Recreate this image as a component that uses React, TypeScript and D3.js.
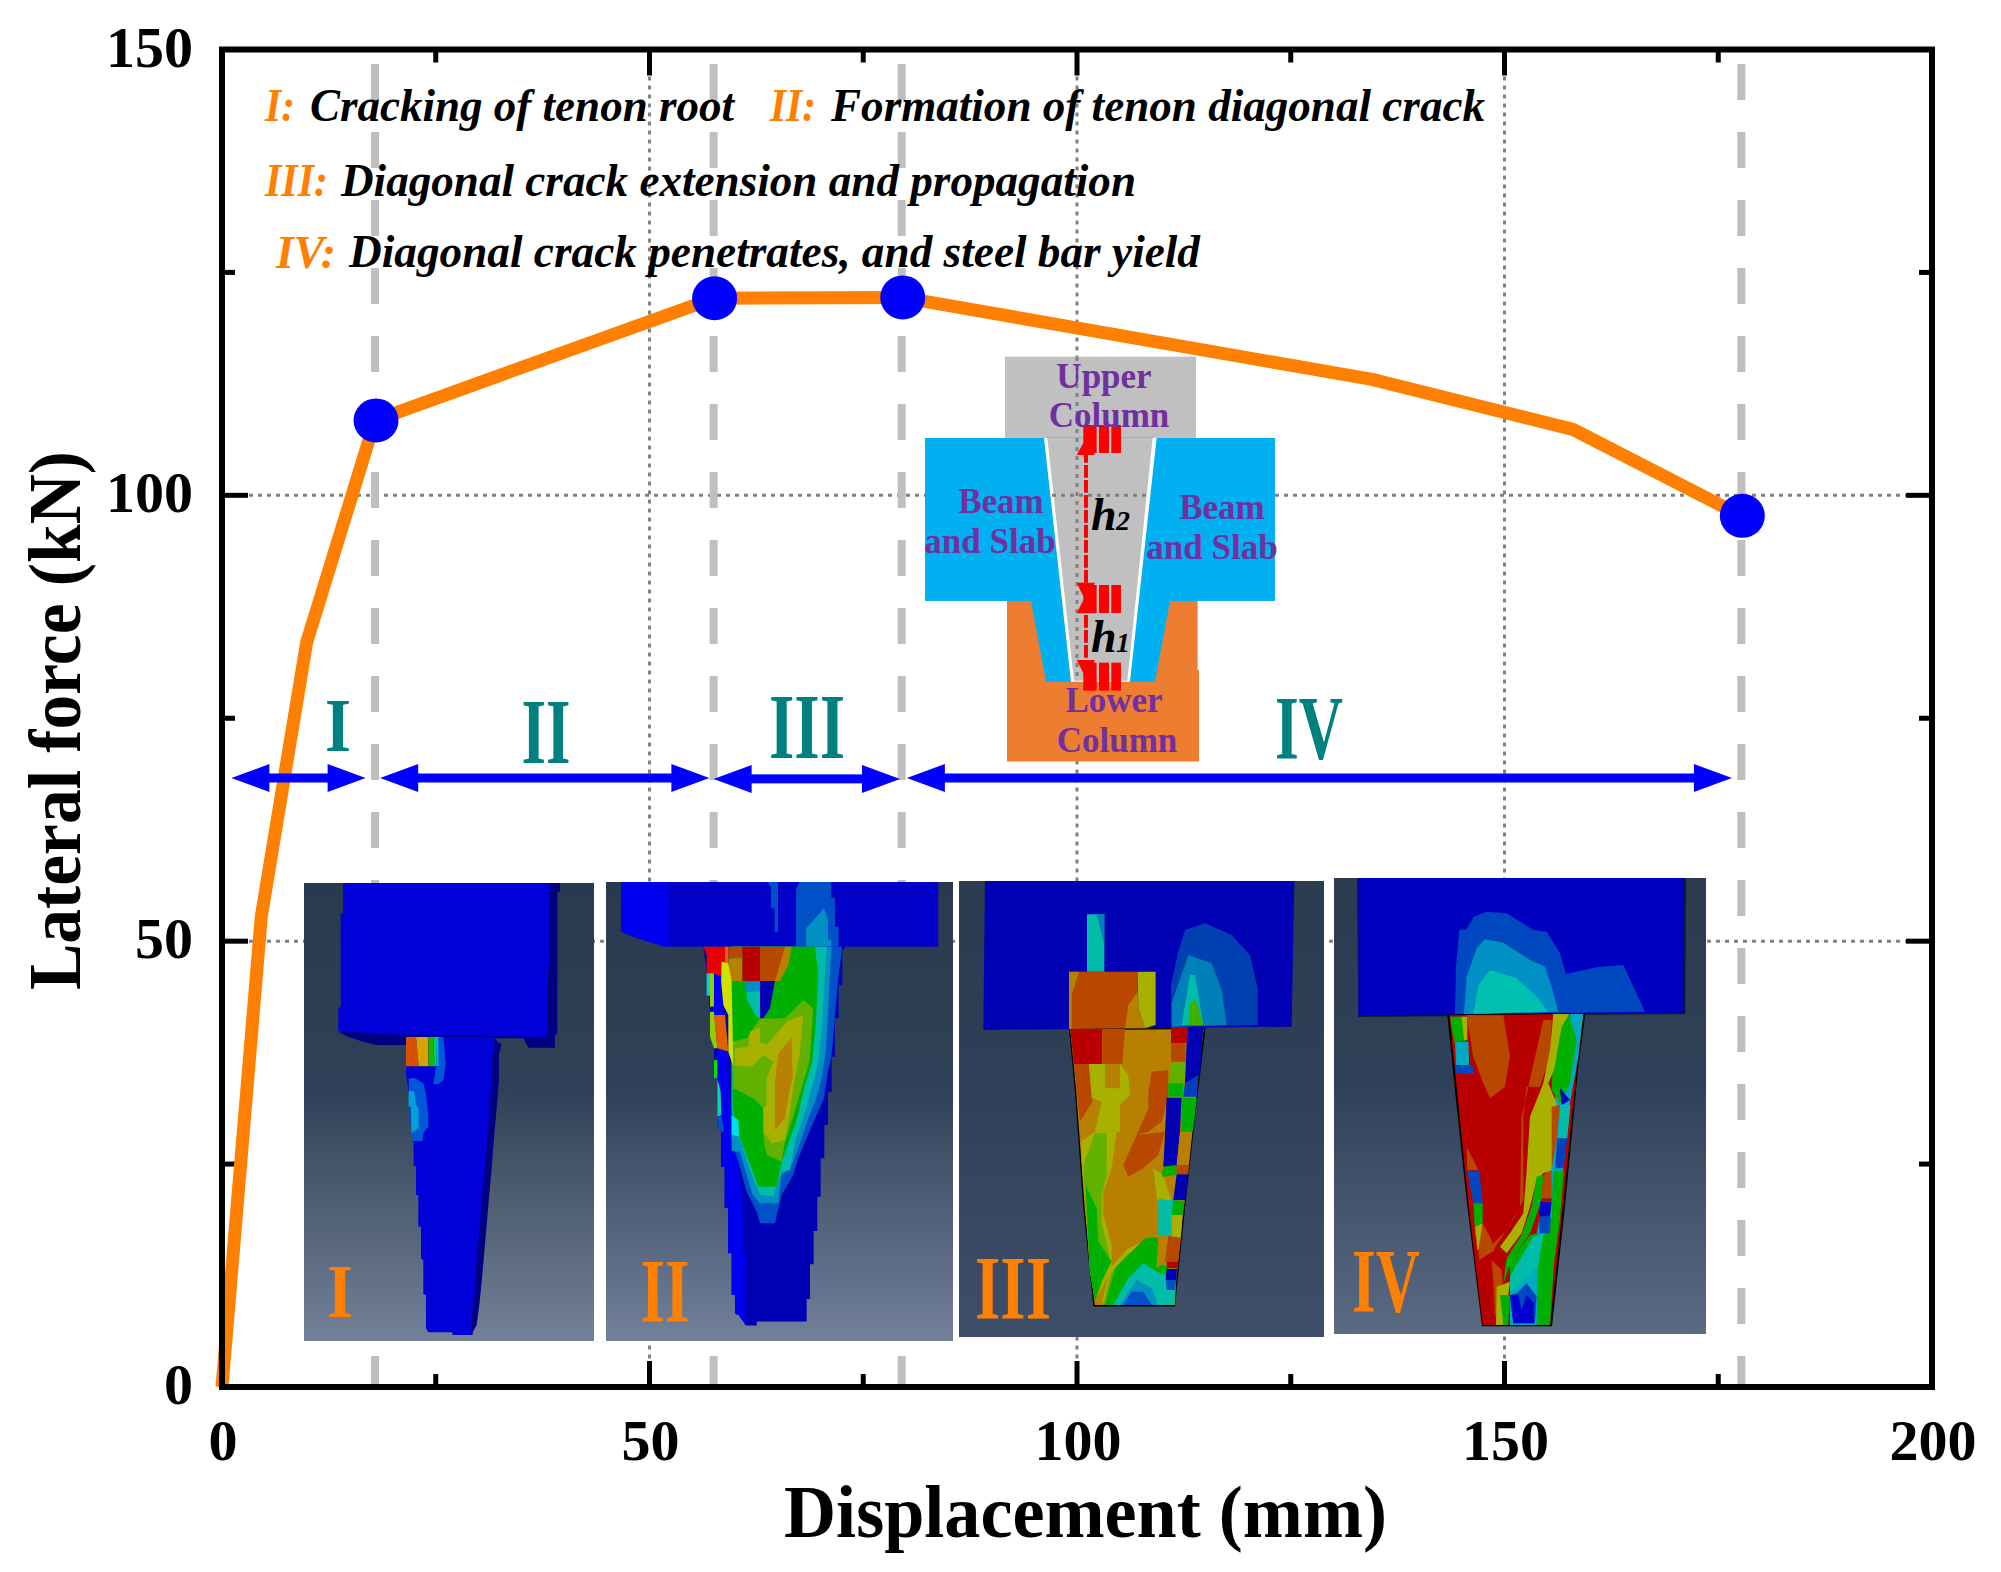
import * as d3 from 'd3';

// curve (mm, kN)
const displacement = [0, 4.6, 9.9, 17.9, 57.5, 79.5, 134.5, 158, 177.7];
const lateralForce = [0, 52.8, 83.5, 108.4, 122.1, 122.2, 113, 107.4, 97.7];
const stagePoints = [3, 4, 5, 8];
const stageLines = [17.9, 57.5, 79.5, 177.7];
const xTicks = [0, 50, 100, 150, 200];
const yTicks = [0, 50, 100, 150];
const xMinor = [25, 75, 125, 175];
const yMinor = [25, 75, 125];
const xGrid = [50, 100, 150];
const yGrid = [50, 100];

const stageArrows = [
  { from: 1.1, to: 16.8, force: 68.3 },
  { from: 18.5, to: 57, force: 68.3 },
  { from: 57.5, to: 79.3, force: 68.2 },
  { from: 80.1, to: 176.6, force: 68.3 },
];
const stageNames = [
  { t: 'I', x: 338, top: 700, h: 51, w: 26 },
  { t: 'II', x: 546, top: 702, h: 61, w: 49 },
  { t: 'III', x: 807, top: 697, h: 61, w: 76 },
  { t: 'IV', x: 1309, top: 699, h: 60, w: 68 },
];
const insetNames = [
  { t: 'I', x: 340, top: 1266, h: 51, w: 26 },
  { t: 'II', x: 665, top: 1262, h: 60, w: 49 },
  { t: 'III', x: 1013, top: 1259, h: 60, w: 76 },
  { t: 'IV', x: 1386, top: 1252, h: 60, w: 68 },
];
const legendKeys = [
  { t: 'I:', x: 265, y: 121, w: 30 },
  { t: 'II:', x: 770, y: 121, w: 46 },
  { t: 'III:', x: 265, y: 196, w: 63 },
  { t: 'IV:', x: 276, y: 268, w: 60 },
];
const legendTexts = [
  { t: 'Cracking of tenon root', x: 310, y: 121, w: 424 },
  { t: 'Formation of tenon diagonal crack', x: 831, y: 121, w: 654 },
  { t: 'Diagonal crack extension and propagation', x: 341, y: 196, w: 795 },
  { t: 'Diagonal crack penetrates, and steel bar yield', x: 349, y: 267, w: 851 },
];

type Patch = [string, string];

const BLUE = '#0000d8';
const DEEP = '#0000b4';
const B2 = '#0050c8';
const B3 = '#0090c4';
const TEAL = '#00bca8';
const GREEN = '#00b000';
const LIME = '#62b000';
const OLIVE = '#a8b000';
const GOLD = '#b88000';
const RUST = '#b84800';
const RED = '#b80000';

// finite element contour pictures, traced in 3x crop pixels
const patchesOne: Patch[] = [
  ['#000080', '750,24 780,24 780,50 772,50 772,478 765,478 765,518 685,518 670,490 583,490 605,510 597,535 597,615 590,700 582,790 575,880 567,968 560,1050 553,1130 546,1210 538,1290 530,1350 518,1372 518,1380 458,1380 458,1372 500,1300 500,500 320,510 230,510 195,502 145,486 115,470 740,400'],
  [BLUE, '129,24 750,24 750,275 743,275 743,485 670,485 262,478 115,468 115,398 122,396 122,115 129,115'],
  [BLUE, '318,486 583,486 583,535 576,535 576,615 568,700 562,790 554,880 546,968 540,1050 532,1130 525,1240 516,1320 516,1380 458,1380 458,1372 385,1372 378,1360 378,1260 370,1258 370,1155 363,1150 363,1055 355,1055 355,960 348,960 348,873 341,873 341,795 334,770 326,650 318,600'],
  ['#0058d8', '416,486 430,486 437,570 430,615 415,628 400,628 408,575 416,575'],
  ['#d85000', '318,486 348,486 356,574 318,574'],
  ['#d8a000', '348,486 385,486 385,574 356,574'],
  ['#28b000', '385,486 400,486 403,574 385,574'],
  ['#00d840', '400,486 408,486 410,574 403,574'],
  ['#00b8d8', '408,486 416,486 416,574 410,574'],
  ['#0058d8', '326,610 345,610 370,625 378,660 385,720 385,755 370,775 368,798 340,798 334,770 326,650'],
  ['#00a0d8', '326,648 342,648 348,690 356,700 356,760 334,775 333,695 326,695'],
];

const patchesTwo: Patch[] = [
  ['#0000f0', '63,21 203,21 203,215 192,215 160,205 118,192 85,180 63,170'],
  ['#0000c8', '203,21 1015,21 1015,215 203,215'],
  [B2, '502,21 534,21 534,170 524,170 524,100 513,100 513,35'],
  [B2, '598,21 694,21 694,68 705,68 705,155 716,155 716,215 588,215 588,45'],
  [B3, '618,215 618,160 650,125 672,100 684,135 684,195 694,195 694,215'],
  [DEEP, '310,215 738,215 727,225 727,330 716,330 716,430 705,430 705,545 695,545 695,650 684,650 684,750 673,750 673,850 662,850 662,965 652,965 652,1068 641,1068 641,1168 630,1168 630,1272 620,1272 620,1340 470,1340 470,1352 438,1352 416,1320 405,1316 405,1260 395,1260 395,1135 384,1135 384,998 374,998 374,875 363,875 363,770 352,750 352,610 342,610 342,490 330,410 320,290'],
  ['#0000f0', '352,520 385,535 385,640 395,700 405,830 415,875 428,1000 428,1135 438,1135 438,1352 416,1320 405,1316 405,1260 395,1260 395,1135 384,1135 384,998 374,998 374,875 363,875 363,770 352,750'],
  [B2, '726,225 716,300 705,420 695,540 684,590 672,670 650,720 620,790 595,850 580,900 545,960 525,1045 480,1045 470,1010 440,950 415,860 395,800 395,215 726,215'],
  [B3, '695,215 690,300 684,430 677,530 665,610 645,680 625,730 605,790 580,860 565,885 545,900 535,985 480,985 458,960 440,900 418,825 395,790 395,215'],
  [TEAL, '680,215 672,340 667,440 655,560 635,640 612,720 585,800 570,885 545,890 520,965 480,960 455,900 418,790 395,700 395,215'],
  [GREEN, '575,215 645,215 655,300 648,440 637,560 612,640 592,730 560,820 545,860 530,935 475,935 455,880 420,790 398,700 395,215'],
  [LIME, '395,500 440,490 480,430 555,430 610,375 640,400 628,560 605,640 578,730 555,800 545,860 500,840 490,790 490,700 460,670 400,640'],
  [OLIVE, '405,520 445,515 450,470 480,455 480,500 500,510 560,440 610,420 600,530 580,640 565,740 555,795 515,805 490,770 490,700 500,690 500,610 520,560 490,540 455,575 405,570'],
  [GOLD, '535,535 575,488 578,610 570,640 555,730 525,765 525,620'],
  [GREEN, '395,318 440,318 440,400 470,430 440,450 420,480 395,460'],
  [TEAL, '440,318 480,318 480,430 465,420 440,370'],
  [B3, '438,318 480,318 480,350 438,350'],
  [DEEP, '480,318 525,318 510,400 490,430 480,430'],
  [GREEN, '525,318 575,318 565,400 530,430 505,430 515,395'],
  ['#e80000', '310,215 375,215 375,305 320,295 320,240'],
  [RUST, '385,215 427,215 427,250 385,250'],
  [GOLD, '385,250 427,250 427,318 385,318'],
  [RED, '427,215 480,215 480,318 427,318'],
  [RUST, '480,215 555,215 545,270 525,318 480,318'],
  [GOLD, '555,215 575,215 565,270 540,318 525,318'],
  ['#e86000', '375,215 385,215 385,265 375,265'],
  ['#d0e000', '365,260 385,265 395,318 400,575 385,530 385,420 362,375'],
  ['#00d0e0', '320,295 330,295 330,362 320,362'],
  ['#90d000', '330,295 342,295 342,395 330,395'],
  ['#0000f0', '342,295 362,305 373,420 342,420'],
  ['#90d000', '330,410 342,410 352,520 342,520 330,485'],
  ['#e06000', '342,420 375,420 385,530 352,520'],
  ['#00e000', '342,555 352,555 352,610 342,610'],
  ['#00d8b0', '352,610 362,650 364,720 352,725'],
  [B2, '352,725 365,725 372,770 363,770 352,750'],
  ['#00e0e0', '395,720 415,735 418,785 395,780'],
  [B3, '395,780 415,785 418,830 395,828'],
];

const patchesThree: Patch[] = [
  [DEEP, '90,18 1018,18 1010,455 85,465'],
  ['#0040b0', '650,455 648,330 670,230 690,165 750,145 830,180 885,240 908,340 908,450'],
  ['#0080b8', '650,455 650,385 700,240 770,265 800,345 815,450'],
  [TEAL, '680,450 705,300 720,300 745,450'],
  ['#40b000', '700,450 705,380 725,380 745,450'],
  [TEAL, '396,118 448,118 448,290 396,290'],
  ['#0080b8', '425,118 448,118 448,210'],
  [RUST, '342,290 548,290 548,462 342,462'],
  [GOLD, '342,290 372,290 350,360 350,462 342,462'],
  [GOLD, '548,350 520,390 510,462 602,462 570,460 550,400'],
  [OLIVE, '548,290 602,290 602,450 570,460 550,400'],
  ['#000000', '342,462 752,458 728,660 690,1000 660,1295 415,1295 385,1000 360,650'],
  [GOLD, '346,466 746,462 724,660 686,1000 656,1290 419,1290 389,1000 364,650'],
  [RED, '346,462 442,462 442,567 357,567'],
  [RUST, '442,462 510,462 502,567 442,567'],
  [RUST, '357,567 402,567 412,680 375,740'],
  [OLIVE, '402,567 450,567 450,640 495,640 495,567 520,600 525,660 495,690 495,770 420,770 440,680 410,668'],
  [RUST, '590,590 640,585 640,670 620,740 580,770 545,780 580,700 580,650'],
  [RUST, '545,780 630,770 610,840 565,880 520,905 505,870'],
  [OLIVE, '378,800 420,770 485,770 470,880 445,950 445,1020 470,1110 470,1180 420,1280 405,1190 392,1000 380,860'],
  [LIME, '385,870 420,775 455,775 455,900 440,960 440,1040 465,1150 420,1280 405,1190 392,1000'],
  [GREEN, '392,930 425,1000 430,1100 470,1160 440,1220 420,1280 405,1190'],
  [OLIVE, '595,880 625,900 650,980 610,1080 520,1120 465,1180 440,1285 520,1285 610,1200 610,1000'],
  [LIME, '610,970 650,980 610,1090 520,1135 470,1190 445,1285 660,1290 665,1180 610,1160'],
  [GREEN, '570,1090 610,1085 610,1160 640,1180 655,1290 450,1290 480,1180'],
  [TEAL, '565,1165 605,1190 655,1210 655,1290 475,1290 520,1210'],
  [B3, '545,1215 590,1240 610,1290 495,1290'],
  [B2, '530,1250 565,1250 590,1290 505,1290'],
  [RED, '648,456 700,456 695,505 648,505'],
  [RUST, '648,505 692,505 692,560 648,560'],
  [DEEP, '700,456 745,456 735,600 690,625 695,505'],
  [LIME, '650,562 692,562 688,625 640,665 640,620'],
  [GREEN, '640,625 685,625 685,665 640,665'],
  ['#0040c0', '690,625 730,600 726,665 685,665'],
  [DEEP, '635,668 680,668 675,770 665,875 625,875 630,780'],
  [GREEN, '682,668 726,668 714,770 678,770'],
  [GOLD, '675,772 712,772 702,870 665,870'],
  [GREEN, '625,875 665,870 665,900 620,905'],
  [RUST, '665,870 702,870 700,898 665,898'],
  [DEEP, '665,898 698,898 692,975 655,975'],
  [TEAL, '610,975 655,975 650,1080 610,1080'],
  [OLIVE, '650,1020 682,1020 678,1088 650,1088'],
  [GREEN, '655,975 690,978 682,1020 650,1020'],
  [GOLD, '610,1082 640,1082 632,1160 605,1180'],
  [RUST, '640,1082 678,1088 670,1160 630,1160'],
  [RED, '635,1160 670,1160 668,1180 635,1180'],
  [DEEP, '635,1182 666,1182 664,1215 632,1215'],
  [B2, '632,1215 664,1215 660,1245 635,1245'],
  [TEAL, '615,1245 660,1245 658,1290 615,1290'],
];

const patchesFour: Patch[] = [
  ['#10182e', '81,24 1068,24 1066,432 85,441'],
  ['#0000c0', '85,24 1062,24 1062,428 85,436'],
  ['#0048c0', '375,432 378,290 388,180 410,178 432,140 470,125 530,130 610,180 650,185 690,250 708,312 800,292 880,285 945,425'],
  [B3, '402,432 410,320 440,235 465,208 520,218 600,270 645,290 665,350 685,425'],
  ['#00c0b0', '430,432 445,345 480,300 560,325 620,380 655,425'],
  ['#000000', '352,434 766,430 744,600 706,1000 666,1369 456,1369 411,1000 379,700'],
  [RED, '358,436 760,432 740,600 700,1000 660,1365 458,1365 415,1000 385,700'],
  ['#00a8c0', '720,432 760,432 745,560 720,700 700,900 680,1100 665,1200 660,1365 540,1365 540,1270 620,1090 640,990 680,640'],
  [GREEN, '690,432 715,432 740,510 720,640 690,700 665,660 670,540'],
  [GREEN, '670,902 702,902 690,1050 672,1180 660,1365 620,1365 625,1130 665,1040'],
  [RUST, '640,450 665,450 660,560 630,650 590,650 580,740 580,990 555,1040 510,1110 490,1140 480,1130 530,1080 570,1010 575,740'],
  [OLIVE, '670,432 718,432 695,470 672,600 655,640 680,700 665,900 640,910 620,930 600,1010 575,1090 530,1150 510,1130 540,1090 580,1030 590,900 600,740 640,640 660,540'],
  [GREEN, '620,920 640,915 635,990 600,1090 545,1170 520,1240 530,1165 575,1095 605,1010'],
  [GREEN, '540,1175 600,1095 625,1090 610,1190 540,1270'],
  [TEAL, '610,1100 640,1090 625,1190 540,1270 540,1220'],
  [RUST, '665,710 690,705 680,810 665,900 665,985 635,985 640,915 665,900'],
  ['#0000c0', '690,655 720,690 695,705'],
  [TEAL, '692,705 722,705 712,805 685,805'],
  ['#0040c0', '682,805 712,805 700,895 675,895'],
  [RED, '637,985 665,985 665,995 637,995'],
  ['#0000c0', '630,995 665,995 660,1040 628,1040'],
  ['#0048c0', '628,1040 662,1040 660,1090 628,1090'],
  ['#0048c0', '540,1275 560,1270 590,1240 620,1280 615,1360 550,1360'],
  ['#0000d0', '540,1275 565,1275 575,1320 590,1275 612,1300 612,1360 550,1360'],
  [GREEN, '360,440 410,440 410,512 372,515'],
  [OLIVE, '395,440 412,440 412,510 402,510'],
  ['#00a8c0', '375,515 415,515 418,585 378,585'],
  ['#0048c0', '375,585 430,585 430,612 380,612'],
  [RED, '418,515 430,515 430,585 418,585'],
  [RUST, '410,436 520,436 540,560 525,650 480,685 460,640 430,560'],
  [RUST, '410,830 445,900 412,900'],
  ['#0048c0', '412,902 448,902 458,1000 430,1000'],
  [GREEN, '430,1000 458,1000 458,1060 436,1100'],
  [OLIVE, '436,1070 458,1060 455,1140 442,1140'],
  [RUST, '458,1060 480,1100 495,1140 448,1170 445,1140'],
  [RUST, '485,1170 515,1200 520,1270 495,1340 490,1240'],
  [OLIVE, '500,1250 540,1235 535,1275 520,1365 498,1365'],
  [GREEN, '510,1275 540,1275 535,1365 520,1365'],
];

const insets = [
  { id: 'bgOne', x: 304, y: 883, w: 290, h: 458, cropX: 300, cropY: 875, patches: patchesOne, stops: ['#2a3a4e', '#2f4158', '#748198'] },
  { id: 'bgTwo', x: 606, y: 882, w: 347, h: 459, cropX: 600, cropY: 875, patches: patchesTwo, stops: ['#2a3a4e', '#2f4158', '#728099'] },
  { id: 'bgThree', x: 959, y: 881, w: 365, h: 456, cropX: 955, cropY: 875, patches: patchesThree, stops: ['#2b3b50', '#2e4058', '#404f69'] },
  { id: 'bgFour', x: 1334, y: 878, w: 372, h: 456, cropX: 1330, cropY: 870, patches: patchesFour, stops: ['#2b3b50', '#2f4158', '#5b6a83'] },
];

const jointLabels = [
  { t: 'Upper', x: 1104, y: 388 },
  { t: 'Column', x: 1109, y: 427 },
  { t: 'Beam', x: 1001, y: 513 },
  { t: 'and Slab', x: 990, y: 553 },
  { t: 'Beam', x: 1222, y: 519 },
  { t: 'and Slab', x: 1212, y: 559 },
  { t: 'Lower', x: 1114, y: 712 },
  { t: 'Column', x: 1117, y: 752 },
];
const hatchRows = [255, 735, 968];
const hatchBars = [[550, 40], [597, 30], [634, 29]];
const jointArrowHeads = [
  '558,295 530,345 585,345',
  '530,728 585,728 558,785',
  '530,820 585,820 558,765',
  '530,960 585,960 558,1015',
];

const SERIF = '"Liberation Serif", "Times New Roman", serif';
const ORANGE = '#ff8000';
const CURVE_BLUE = '#0000ff';
const PURPLE = '#7030a0';

const width = 2001;
const height = 1572;
const x = d3.scaleLinear().domain([0, 200]).range([222, 1932]);
const y = d3.scaleLinear().domain([0, 150]).range([1387, 49.5]);

const curve = d3
  .line<number>()
  .x((d) => x(d))
  .y((_, i) => y(lateralForce[i]));

const GRID_DASH = '4 5';

function Numeral({ n, fill }: { n: { t: string; x: number; top: number; h: number; w: number }; fill: string }) {
  const size = n.h / 0.662;
  return (
    <text
      x={n.x - n.w / 2}
      y={n.top + n.h}
      fontFamily={SERIF}
      fontWeight="bold"
      fontSize={size}
      fill={fill}
      textLength={n.w}
      lengthAdjust="spacingAndGlyphs"
    >
      {n.t}
    </text>
  );
}

function Arrow({ a }: { a: { from: number; to: number; force: number } }) {
  const x0 = x(a.from);
  const x1 = x(a.to);
  const yy = y(a.force);
  const head = 38;
  const half = 14;
  return (
    <g fill={CURVE_BLUE}>
      <rect x={x0 + head - 1} y={yy - 4.5} width={x1 - x0 - 2 * head + 2} height={9} />
      <polygon points={`${x0},${yy} ${x0 + head},${yy - half} ${x0 + head},${yy + half}`} />
      <polygon points={`${x1},${yy} ${x1 - head},${yy - half} ${x1 - head},${yy + half}`} />
    </g>
  );
}

function Joint() {
  return (
    <g>
      <g transform="translate(900,340) scale(0.3333)">
        <rect x={315} y={50} width={573} height={244} fill="#c0c0c0" />
        <polygon points="321,783 893,783 893,990 897,990 897,1265 321,1265" fill="#ed7d31" />
        <rect x={75} y={294} width={1050} height={489} fill="#00b0f0" />
        <polygon points="393,783 438,1025 765,1025 810,783" fill="#00b0f0" />
        <polygon points="432,294 770,294 690,1025 513,1025" fill="#ffffff" />
        <polygon points="442,294 758,294 682,1022 522,1022" fill="#c0c0c0" />
        <line x1={442} x2={758} y1={293} y2={293} stroke="#a8a8a8" strokeWidth={3} />
      </g>
      <line x1={x(100)} x2={x(100)} y1={357} y2={680} stroke="#808080" strokeWidth={3} strokeDasharray={GRID_DASH} />
      <line x1={1052} x2={1148} y1={y(100)} y2={y(100)} stroke="#808080" strokeWidth={3} strokeDasharray={GRID_DASH} />
      <g transform="translate(900,340) scale(0.3333)">
        {hatchRows.map((r) =>
          hatchBars.map(([bx, bw]) => <rect key={`${r}-${bx}`} x={bx} y={r} width={bw} height={84} fill="#ff0000" />),
        )}
        <line x1={558} x2={558} y1={330} y2={1000} stroke="#ff0000" strokeWidth={12} strokeDasharray="38 7" />
        {jointArrowHeads.map((p) => (
          <polygon key={p} points={p} fill="#ff0000" />
        ))}
      </g>
      {jointLabels.map((l, i) => (
        <text
          key={i}
          x={l.x}
          y={l.y}
          textAnchor="middle"
          fontFamily={SERIF}
          fontWeight="bold"
          fontSize={35}
          fill={PURPLE}
        >
          {l.t}
        </text>
      ))}
      <g fontFamily={SERIF} fontWeight="bold" fontStyle="italic" fill="#000000">
        <text x={1091} y={530} fontSize={46}>h</text>
        <text x={1116} y={530} fontSize={28}>2</text>
        <text x={1091} y={652} fontSize={46}>h</text>
        <text x={1116} y={652} fontSize={28}>1</text>
      </g>
    </g>
  );
}

export default function App() {
  return (
    <svg
      width={width}
      height={height}
      viewBox={`0 0 ${width} ${height}`}
      style={{ position: 'absolute', left: 0, top: 0, background: '#ffffff' }}
    >
      <defs>
        {insets.map((s) => (
          <linearGradient key={s.id} id={s.id} x1="0" x2="0" y1="0" y2="1">
            <stop offset="0" stopColor={s.stops[0]} />
            <stop offset="0.45" stopColor={s.stops[1]} />
            <stop offset="1" stopColor={s.stops[2]} />
          </linearGradient>
        ))}
      </defs>

      {xGrid.map((d) => (
        <line key={d} x1={x(d)} x2={x(d)} y1={y(150)} y2={y(0)} stroke="#808080" strokeWidth={3} strokeDasharray={GRID_DASH} />
      ))}
      {yGrid.map((d) => (
        <line key={d} x1={x(0)} x2={x(200)} y1={y(d)} y2={y(d)} stroke="#808080" strokeWidth={3} strokeDasharray={GRID_DASH} />
      ))}

      {stageLines.map((d) => (
        <line key={d} x1={x(d)} x2={x(d)} y1={64} y2={y(0)} stroke="#bfbfbf" strokeWidth={8} strokeDasharray="36 32" />
      ))}

      {/* ticks on all four sides */}
      <g stroke="#000000" strokeWidth={5}>
        {xTicks.map((d) => (
          <g key={d}>
            <line x1={x(d)} x2={x(d)} y1={y(0)} y2={y(0) - 26} />
            <line x1={x(d)} x2={x(d)} y1={y(150)} y2={y(150) + 26} />
          </g>
        ))}
        {xMinor.map((d) => (
          <g key={d}>
            <line x1={x(d)} x2={x(d)} y1={y(0)} y2={y(0) - 13} />
            <line x1={x(d)} x2={x(d)} y1={y(150)} y2={y(150) + 13} />
          </g>
        ))}
        {yTicks.map((d) => (
          <g key={d}>
            <line x1={x(0)} x2={x(0) + 26} y1={y(d)} y2={y(d)} />
            <line x1={x(200)} x2={x(200) - 26} y1={y(d)} y2={y(d)} />
          </g>
        ))}
        {yMinor.map((d) => (
          <g key={d}>
            <line x1={x(0)} x2={x(0) + 13} y1={y(d)} y2={y(d)} />
            <line x1={x(200)} x2={x(200) - 13} y1={y(d)} y2={y(d)} />
          </g>
        ))}
      </g>

      {insets.map((s) => (
        <g key={s.id}>
          <rect x={s.x} y={s.y} width={s.w} height={s.h} fill={`url(#${s.id})`} />
          <g transform={`translate(${s.cropX},${s.cropY}) scale(0.3333)`}>
            {s.patches.map(([fill, points], i) => (
              <polygon key={i} points={points} fill={fill} />
            ))}
          </g>
        </g>
      ))}
      {insetNames.map((n) => (
        <Numeral key={n.t} n={n} fill={ORANGE} />
      ))}

      <Joint />

      <path
        d={curve(displacement) ?? ''}
        fill="none"
        stroke={ORANGE}
        strokeWidth={13}
        strokeLinejoin="round"
      />
      {stagePoints.map((i) => (
        <ellipse key={i} cx={x(displacement[i]) + 1} cy={y(lateralForce[i])} rx={22.5} ry={22} fill={CURVE_BLUE} />
      ))}

      {stageArrows.map((a) => (
        <Arrow key={a.from} a={a} />
      ))}
      {stageNames.map((n) => (
        <Numeral key={n.t} n={n} fill="#008080" />
      ))}

      <g fontFamily={SERIF} fontWeight="bold" fontStyle="italic" fontSize={47}>
        {legendKeys.map((l) => (
          <text key={l.t} x={l.x} y={l.y} fill={ORANGE} textLength={l.w} lengthAdjust="spacingAndGlyphs">{l.t}</text>
        ))}
        {legendTexts.map((l) => (
          <text key={l.t} x={l.x} y={l.y} fill="#000000" textLength={l.w} lengthAdjust="spacingAndGlyphs">{l.t}</text>
        ))}
      </g>

      <rect x={x(0)} y={y(150)} width={x(200) - x(0)} height={y(0) - y(150)} fill="none" stroke="#000000" strokeWidth={6} />

      <g fontFamily={SERIF} fontWeight="bold" fontSize={58} fill="#000000">
        {xTicks.map((d) => (
          <text key={d} x={x(d) + 1} y={1460} textAnchor="middle">{d}</text>
        ))}
        {yTicks.map((d) => (
          <text key={d} x={193} y={y(d) + 17} textAnchor="end">{d}</text>
        ))}
      </g>
      <text
        x={784}
        y={1537}
        fontFamily={SERIF}
        fontWeight="bold"
        fontSize={74}
        fill="#000000"
        textLength={603}
        lengthAdjust="spacingAndGlyphs"
      >
        Displacement (mm)
      </text>
      <text
        transform="translate(80,990) rotate(-90)"
        fontFamily={SERIF}
        fontWeight="bold"
        fontSize={74}
        fill="#000000"
        textLength={539}
        lengthAdjust="spacingAndGlyphs"
      >
        Lateral force (kN)
      </text>
    </svg>
  );
}
